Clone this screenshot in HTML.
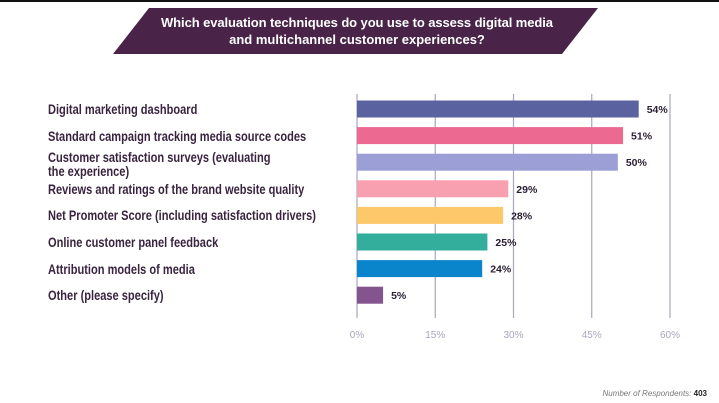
<!DOCTYPE html>
<html><head><meta charset="utf-8"><style>
body{margin:0;width:719px;height:403px;background:#fff;overflow:hidden;font-family:"Liberation Sans",sans-serif;position:relative}
.lab{position:absolute;left:48px;font-size:14px;font-weight:bold;color:#3a2440;line-height:14px;white-space:nowrap;transform:scaleX(0.79);transform-origin:left center}
</style></head><body>
<div style="position:absolute;left:0;top:0;width:719px;height:2px;background:#111"></div>
<svg width="719" height="60" style="position:absolute;left:0;top:0">
<polygon points="149,8 598,8 562,54 113,54" fill="#4a2349"/>
<text x="357" y="27" text-anchor="middle" fill="#fff" font-size="13" font-weight="bold" font-family="Liberation Sans, sans-serif" textLength="392">Which evaluation techniques do you use to assess digital media</text>
<text x="357" y="44" text-anchor="middle" fill="#fff" font-size="13" font-weight="bold" font-family="Liberation Sans, sans-serif">and multichannel customer experiences?</text>
</svg>
<div id="labels"></div>
<svg id="chart" width="719" height="403" style="position:absolute;left:0;top:0"></svg>
<div style="position:absolute;right:12px;top:389px;font-size:8px;color:#777;font-style:italic">Number of Respondents: <b style="font-style:normal;color:#222">403</b></div>
<script>
const categories=["Digital marketing dashboard","Standard campaign tracking media source codes","Customer satisfaction surveys (evaluating<br>the experience)","Reviews and ratings of the brand website quality","Net Promoter Score (including satisfaction drivers)","Online customer panel feedback","Attribution models of media","Other (please specify)"];
const values=[54,51,50,29,28,25,24,5];
const colors=["#5b62a0","#ec6a91","#9b9fd6","#f9a0b0","#fdc86a","#34ae9c","#0a84cb","#84548f"];
const ticks=[0,15,30,45,60];
const NS="http://www.w3.org/2000/svg";
const svg=document.getElementById('chart');
const x=v=>357+v*(313/60);
const y=i=>109+i*26.6;
function mk(t,a){const e=document.createElementNS(NS,t);for(const k in a)e.setAttribute(k,a[k]);svg.appendChild(e);return e;}
ticks.forEach(t=>{
 const l=mk('line',{x1:x(t),x2:x(t),y1:94,y2:318,stroke:'#aaa6bd','stroke-width':1.2});
 
 
 const tx=mk('text',{x:x(t),y:338,'text-anchor':'middle','font-size':10,fill:'#a9a6bf','font-family':'Liberation Sans, sans-serif'});
 tx.textContent=t+'%';
 
 
});
const lw=document.getElementById('labels');
values.forEach((v,i)=>{
 const r=mk('rect',{x:x(0),y:y(i)-8.5,width:x(v)-x(0),height:17,fill:colors[i]});
 
 
 const t=mk('text',{x:x(v)+8,y:y(i)+4,'font-size':10.5,'font-weight':'bold',fill:'#2a1e33','font-family':'Liberation Sans, sans-serif'});
 t.textContent=v+'%';
 
 
 const d=document.createElement('div');
 d.className='lab';
 
 
 d.innerHTML=categories[i];
 const two=categories[i].includes('<br>');
 d.style.top=(two?y(i)-12:y(i)-7)+'px';
 lw.appendChild(d);
});
</script>
</body></html>
